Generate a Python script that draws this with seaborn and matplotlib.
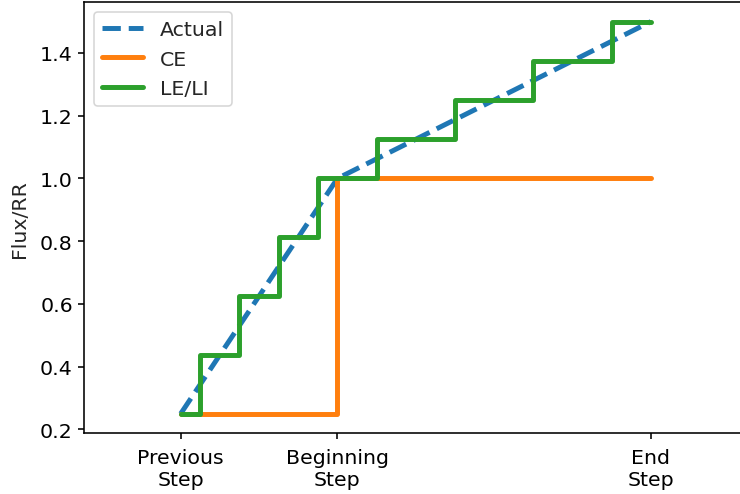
import matplotlib
matplotlib.use("Agg")
import matplotlib.pyplot as plt
import seaborn as sns
import pandas as pd

# Step positions on the time axis
tick_pos = [0, 1, 3]
tick_labels = ["Previous\nStep", "Beginning\nStep", "End\nStep"]

# True flux/RR evolution
actual_x = [0, 1, 3]
actual_y = [0.25, 1.0, 1.5]

# Constant-extrapolation estimate
ce_x = [0, 1, 3]
ce_y = [0.25, 1.0, 1.0]

# Linear extrapolation / interpolation estimate (sub-stepped)
le_x = [0, 0.25, 0.5, 0.75, 1.0, 1.5, 2.0, 2.5, 3.0]
le_y = [0.25, 0.4375, 0.625, 0.8125, 1.0, 1.125, 1.25, 1.375, 1.5]

sns.set_style("ticks")
plt.rcParams["font.family"] = ["DejaVu Sans"]
plt.rcParams["font.size"] = 12.8

dpi = 115
fig = plt.figure(figsize=(740 / dpi, 495 / dpi), dpi=dpi)
ax = fig.add_axes([84 / 740, (495 - 434.3) / 495, 661 / 740, 431.3 / 495])

sns.lineplot(x=actual_x, y=actual_y, ax=ax, color="#1f77b4", linestyle="--",
             linewidth=3.1, label="Actual")
sns.lineplot(x=ce_x, y=ce_y, ax=ax, color="#ff7f0e", linewidth=3.1,
             drawstyle="steps-post", label="CE")
sns.lineplot(x=le_x, y=le_y, ax=ax, color="#2ca02c", linewidth=3.1,
             drawstyle="steps-mid", label="LE/LI")

ax.set_xlim(-0.617, 3.6)
ax.set_ylim(0.1875, 1.5625)
ax.set_xticks(tick_pos)
ax.set_xticklabels(tick_labels)
ax.set_yticks([0.2, 0.4, 0.6, 0.8, 1.0, 1.2, 1.4])
ax.set_ylabel("Flux/RR", fontsize=12.8, labelpad=7)
for s in ax.spines.values():
    s.set_color("black")
    s.set_linewidth(1.0)
ax.tick_params(colors="black", labelsize=12.8, length=3.5, width=1.0)
ax.tick_params(axis="x", pad=6)
ax.legend(loc="upper left", fontsize=12.8, frameon=True)

fig.savefig("out.png", dpi=dpi)
